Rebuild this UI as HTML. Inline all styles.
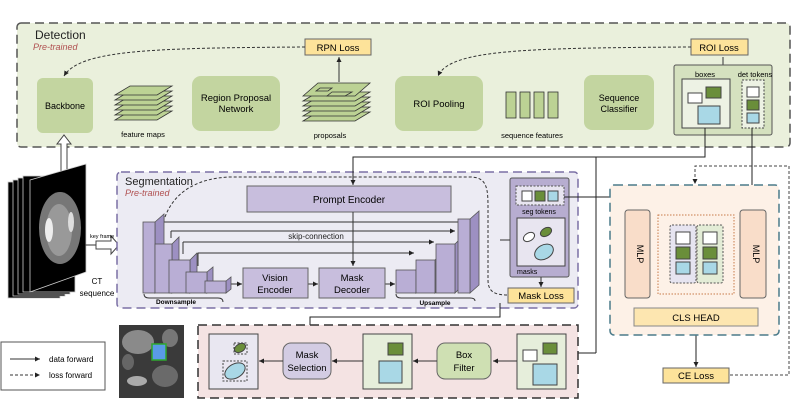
<!DOCTYPE html><html><head><meta charset="utf-8"><style>body{margin:0;background:#fff}svg{display:block;font-family:"Liberation Sans",sans-serif}</style></head><body>
<svg width="800" height="408" viewBox="0 0 800 408" xmlns="http://www.w3.org/2000/svg">
<defs>
<marker id="a" markerWidth="6" markerHeight="6" refX="5" refY="3" orient="auto"><path d="M0,0.5 L5,3 L0,5.5z" fill="#222"/></marker>
</defs>
<!-- Detection -->
<rect x="17" y="23" width="773" height="124" rx="4" fill="#eaf0dc" stroke="#555" stroke-width="1.5" stroke-dasharray="9,5"/>
<text x="35" y="39" font-size="12" fill="#222">Detection</text>
<text x="33" y="50" font-size="9" fill="#b05050" font-style="italic">Pre-trained</text>
<rect x="305" y="39" width="66" height="16" fill="#fde39a" stroke="#666"/><text x="338" y="51" font-size="9.5" text-anchor="middle">RPN Loss</text>
<rect x="691" y="39" width="57" height="16" fill="#fde39a" stroke="#666"/><text x="719" y="51" font-size="9.5" text-anchor="middle">ROI Loss</text>
<path d="M305,47 C150,48 80,50 64,76" fill="none" stroke="#333" stroke-dasharray="3,2" marker-end="url(#a)"/>
<path d="M691,47 C520,48 450,50 438,76" fill="none" stroke="#333" stroke-dasharray="3,2" marker-end="url(#a)"/>
<line x1="339" y1="82" x2="339" y2="57" stroke="#333" marker-end="url(#a)"/>
<line x1="723" y1="65" x2="723" y2="57" stroke="#333"/>
<rect x="37" y="78" width="56" height="55" rx="6" fill="#c3d5a0"/><text x="65" y="109" font-size="9" text-anchor="middle">Backbone</text>
<rect x="192" y="76" width="88" height="55" rx="9" fill="#c3d5a0"/><text x="236" y="101" font-size="9.5" text-anchor="middle">Region Proposal</text><text x="236" y="112" font-size="9.5" text-anchor="middle">Network</text>
<rect x="395" y="76" width="88" height="55" rx="9" fill="#c3d5a0"/><text x="439" y="107" font-size="9.5" text-anchor="middle">ROI Pooling</text>
<rect x="584" y="75" width="70" height="55" rx="8" fill="#c3d5a0"/><text x="619" y="101" font-size="9" text-anchor="middle">Sequence</text><text x="619" y="112" font-size="9" text-anchor="middle">Classifier</text>
<g fill="#bcd294" stroke="#333" stroke-width="0.8">
<path d="M115,120 L130,111 L172,111 L157,120z"/><path d="M115,115 L130,106 L172,106 L157,115z"/><path d="M115,110 L130,101 L172,101 L157,110z"/><path d="M115,105 L130,96 L172,96 L157,105z"/><path d="M115,100 L130,91 L172,91 L157,100z"/><path d="M115,95 L130,86 L172,86 L157,95z"/>
<path d="M303,121 L318,112 L370,112 L355,121z"/><path d="M303,116 L318,107 L370,107 L355,116z"/><path d="M303,111 L318,102 L370,102 L355,111z"/><path d="M303,106 L318,97 L370,97 L355,106z"/><path d="M303,101 L318,92 L370,92 L355,101z"/><path d="M303,96 L318,83 L370,83 L355,96z"/>
<rect x="506" y="92" width="10" height="26"/><rect x="520" y="92" width="10" height="26"/><rect x="534" y="92" width="10" height="26"/><rect x="548" y="92" width="10" height="26"/>
</g>
<path d="M320,88 L332,88 L328,91 L316,91z M332,92 L352,92 L345,96 L327,96z" fill="none" stroke="#333" stroke-width="0.8"/>
<text x="143" y="137" font-size="7.5" text-anchor="middle">feature maps</text>
<text x="330" y="138" font-size="7.5" text-anchor="middle">proposals</text>
<text x="532" y="138" font-size="7.5" text-anchor="middle">sequence features</text>
<rect x="674" y="65" width="98" height="70" rx="2" fill="#d5e1bf" stroke="#555"/>
<text x="705" y="77" font-size="7.5" text-anchor="middle">boxes</text><text x="755" y="77" font-size="7.5" text-anchor="middle">det tokens</text>
<rect x="682" y="79" width="48" height="49" fill="#edf2e4" stroke="#444"/>
<rect x="688" y="93" width="14" height="10" fill="#fff" stroke="#444"/><rect x="706" y="87" width="15" height="11" fill="#6a8e3a" stroke="#444"/><rect x="698" y="106" width="22" height="18" fill="#a9d8e6" stroke="#444"/>
<rect x="742" y="80" width="22" height="48" fill="#edf2e4" stroke="#444" stroke-dasharray="2,1.5"/>
<rect x="747" y="87" width="12" height="10" fill="#fff" stroke="#444"/><rect x="747" y="100" width="12" height="10" fill="#6a8e3a" stroke="#444"/><rect x="747" y="113" width="12" height="10" fill="#a9d8e6" stroke="#444"/>
<!-- hollow up arrow -->
<path d="M61,178 L61,144 L57,144 L64,135 L71,144 L67,144 L67,178z" fill="#fff" stroke="#444"/>
<!-- CT stack -->
<g stroke="#ccc" stroke-width="0.8">
<rect x="8" y="182" width="52" height="116" fill="#000"/><rect x="13" y="180" width="52" height="116" fill="#000"/><rect x="18" y="178" width="52" height="116" fill="#000"/><rect x="23" y="176" width="52" height="116" fill="#000"/>
<path d="M30,180 L86,164 L86,272 L30,292z" fill="#000"/>
</g>
<ellipse cx="60" cy="228" rx="21" ry="36" fill="#777"/><ellipse cx="59" cy="230" rx="13" ry="26" fill="#999"/><ellipse cx="49" cy="230" rx="4" ry="12" fill="#eee"/><ellipse cx="71" cy="222" rx="3" ry="10" fill="#ddd"/>
<text x="97" y="284" font-size="8" text-anchor="middle">CT</text><text x="97" y="296" font-size="8" text-anchor="middle">sequence</text>
<line x1="85" y1="245" x2="96" y2="245" stroke="#333"/>
<path d="M96,241 L111,241 L111,236 L119,245 L111,254 L111,249 L96,249z" fill="#fff" stroke="#444"/>
<text x="90" y="238" font-size="5.5">key frame</text>
<!-- Segmentation -->
<rect x="117" y="172" width="461" height="136" rx="4" fill="#ecebf3" stroke="#7b70a5" stroke-width="1.5" stroke-dasharray="9,5"/>
<text x="125" y="185" font-size="11" fill="#222">Segmentation</text>
<text x="125" y="196" font-size="9" fill="#b05050" font-style="italic">Pre-trained</text>
<path d="M165,217 C175,190 200,178 230,177 L470,177 C488,177 488,190 488,210 L488,280 C488,292 495,295 508,295" fill="none" stroke="#333" stroke-dasharray="3,2"/>
<rect x="247" y="186" width="204" height="26" fill="#c8bedd" stroke="#666"/><text x="349" y="203" font-size="10" text-anchor="middle">Prompt Encoder</text>
<g stroke="#333" fill="none">
<line x1="164" y1="222" x2="465" y2="222" marker-end="url(#a)"/>
<line x1="171" y1="231" x2="455" y2="231" marker-end="url(#a)"/>
<line x1="183" y1="242" x2="434" y2="242" marker-end="url(#a)"/>
<line x1="198" y1="253" x2="414" y2="253" marker-end="url(#a)"/>
<line x1="164" y1="222" x2="164" y2="217"/><line x1="171" y1="231" x2="171" y2="238"/><line x1="183" y1="242" x2="183" y2="254"/><line x1="198" y1="253" x2="198" y2="266"/>
<line x1="353" y1="212" x2="353" y2="266" marker-end="url(#a)"/>
<line x1="227" y1="284" x2="242" y2="284" marker-end="url(#a)"/>
<line x1="308" y1="284" x2="318" y2="284" marker-end="url(#a)"/>
<line x1="385" y1="284" x2="395" y2="284" marker-end="url(#a)"/>
<path d="M144,294 q0,4 5,4 L218,298 q5,0 5,4"/><path d="M396,294 q0,4 5,4 L470,298 q5,0 5,3"/>
</g>
<text x="316" y="239" font-size="8" text-anchor="middle" fill="#222">skip-connection</text>
<g fill="#b9aed5" stroke="#555" stroke-width="0.8">
<path d="M155,222 L164,214 L164,286 L155,293z" fill="#9d90c2"/><rect x="143" y="222" width="12" height="71"/>
<path d="M172,244 L179,237 L179,286 L172,293z" fill="#9d90c2"/><rect x="155" y="244" width="17" height="49"/>
<path d="M190,260 L197,253 L197,286 L190,293z" fill="#9d90c2"/><rect x="169" y="260" width="21" height="33"/>
<path d="M207,272 L213,267 L213,287 L207,293z" fill="#9d90c2"/><rect x="186" y="272" width="21" height="21"/>
<path d="M226,281 L231,277 L231,289 L226,293z" fill="#9d90c2"/><rect x="205" y="281" width="21" height="12"/>
<path d="M416,270 L422,265 L422,287 L416,293z" fill="#9d90c2"/><rect x="396" y="270" width="20" height="23"/>
<path d="M435,260 L441,254 L441,287 L435,293z" fill="#9d90c2"/><rect x="416" y="260" width="19" height="33"/>
<path d="M455,244 L462,237 L462,286 L455,293z" fill="#9d90c2"/><rect x="436" y="244" width="19" height="49"/>
<path d="M470,219 L479,211 L479,285 L470,293z" fill="#9d90c2"/><rect x="458" y="219" width="12" height="74"/>
</g>
<rect x="243" y="268" width="65" height="30" fill="#c8bedd" stroke="#666"/><text x="275" y="281" font-size="9.5" text-anchor="middle">Vision</text><text x="275" y="293" font-size="9.5" text-anchor="middle">Encoder</text>
<rect x="319" y="268" width="66" height="30" fill="#c8bedd" stroke="#666"/><text x="352" y="281" font-size="9.5" text-anchor="middle">Mask</text><text x="352" y="293" font-size="9.5" text-anchor="middle">Decoder</text>
<text x="176" y="304" font-size="6.5" font-weight="bold" text-anchor="middle">Downsample</text>
<text x="435" y="305" font-size="6.5" font-weight="bold" text-anchor="middle">Upsample</text>
<rect x="510" y="178" width="59" height="99" rx="2" fill="#b7add0" stroke="#555"/>
<rect x="516" y="186" width="48" height="19" fill="#e8e5f0" stroke="#555" stroke-dasharray="2,1.5"/>
<rect x="522" y="191" width="10" height="10" fill="#fff" stroke="#444"/><rect x="535" y="191" width="10" height="10" fill="#6a8e3a" stroke="#444"/><rect x="548" y="191" width="10" height="10" fill="#a9d8e6" stroke="#444"/>
<text x="539" y="214" font-size="7" text-anchor="middle">seg tokens</text>
<rect x="517" y="218" width="48" height="48" fill="#e8e5f0" stroke="#444"/>
<ellipse cx="529" cy="237" rx="6" ry="4" fill="#fff" stroke="#444" transform="rotate(-30 529 237)"/><ellipse cx="546" cy="232" rx="6" ry="4" fill="#6a8e3a" stroke="#444" transform="rotate(-30 546 232)"/><ellipse cx="544" cy="252" rx="10" ry="7" fill="#a9d8e6" stroke="#444" transform="rotate(-30 544 252)"/>
<text x="517" y="274" font-size="7">masks</text>
<line x1="541" y1="277" x2="541" y2="287" stroke="#333" marker-end="url(#a)"/>
<rect x="508" y="288" width="66" height="15" fill="#fde39a" stroke="#666"/><text x="541" y="299" font-size="9.5" text-anchor="middle">Mask Loss</text>
<line x1="500" y1="240" x2="510" y2="240" stroke="#333"/>
<!-- routing lines -->
<g stroke="#222" fill="none">
<polyline points="705,128 705,157 353,157 353,185" marker-end="url(#a)"/>
<line x1="596" y1="157" x2="596" y2="353"/>
<line x1="596" y1="353" x2="568" y2="353" marker-end="url(#a)"/>
<polyline points="752,128 752,209" marker-end="url(#a)"/>
<polyline points="564,197 636,197 636,209" marker-end="url(#a)"/>
<polyline points="500,303 500,317 310,317 310,336" marker-end="url(#a)"/>
<polyline points="696,326 696,367" marker-end="url(#a)"/>
</g>
<polyline points="730,375 789,375 789,166 695,166 695,184" fill="none" stroke="#444" stroke-dasharray="3,2" marker-end="url(#a)"/>
<!-- CLS -->
<rect x="610" y="185" width="169" height="150" rx="4" fill="#fdf1e7" stroke="#4b7b8a" stroke-width="1.5" stroke-dasharray="9,5"/>
<rect x="625" y="210" width="25" height="88" rx="3" fill="#f9ddc9" stroke="#666"/><text x="637" y="254" font-size="9" text-anchor="middle" transform="rotate(90 637 254)">MLP</text>
<rect x="740" y="210" width="26" height="88" rx="3" fill="#f9ddc9" stroke="#666"/><text x="753" y="254" font-size="9" text-anchor="middle" transform="rotate(90 753 254)">MLP</text>
<rect x="658" y="215" width="76" height="79" fill="none" stroke="#c87a4a" stroke-dasharray="1.5,1.5"/>
<rect x="670" y="225" width="26" height="58" rx="2" fill="#e6e4f0" stroke="#555" stroke-dasharray="2,1.5"/>
<rect x="697" y="225" width="26" height="58" rx="2" fill="#e3ecd6" stroke="#555" stroke-dasharray="2,1.5"/>
<rect x="676" y="232" width="14" height="12" fill="#fff" stroke="#444"/><rect x="676" y="247" width="14" height="12" fill="#6a8e3a" stroke="#444"/><rect x="676" y="262" width="14" height="12" fill="#a9d8e6" stroke="#444"/>
<rect x="703" y="232" width="14" height="12" fill="#fff" stroke="#444"/><rect x="703" y="247" width="14" height="12" fill="#6a8e3a" stroke="#444"/><rect x="703" y="262" width="14" height="12" fill="#a9d8e6" stroke="#444"/>
<rect x="634" y="308" width="124" height="18" fill="#fde6b0" stroke="#888"/><text x="696" y="321" font-size="9.5" text-anchor="middle">CLS HEAD</text>
<rect x="663" y="368" width="66" height="15" fill="#fde39a" stroke="#666"/><text x="696" y="379" font-size="9.5" text-anchor="middle">CE Loss</text>
<!-- bottom pipeline -->
<rect x="198" y="325" width="380" height="73" fill="#f4e3e3" stroke="#333" stroke-width="1.5" stroke-dasharray="9,5"/>
<rect x="209" y="334" width="49" height="55" fill="#e9e7f1" stroke="#444"/>
<rect x="234" y="343" width="13" height="11" fill="none" stroke="#444" stroke-dasharray="2,1.5"/><ellipse cx="240" cy="348" rx="6" ry="4" fill="#6a8e3a" stroke="#444" transform="rotate(-30 240 348)"/>
<rect x="223" y="361" width="24" height="20" fill="none" stroke="#444" stroke-dasharray="2,1.5"/><ellipse cx="235" cy="371" rx="11" ry="7" fill="#a9d8e6" stroke="#444" transform="rotate(-30 235 371)"/>
<rect x="283" y="343" width="48" height="36" rx="8" fill="#d3cce3" stroke="#666"/><text x="307" y="358" font-size="9.5" text-anchor="middle">Mask</text><text x="307" y="371" font-size="9.5" text-anchor="middle">Selection</text>
<rect x="363" y="334" width="49" height="55" fill="#e6eedb" stroke="#444"/>
<rect x="388" y="343" width="15" height="12" fill="#6a8e3a" stroke="#444"/><rect x="379" y="361" width="23" height="22" fill="#a9d8e6" stroke="#444"/>
<rect x="437" y="343" width="54" height="36" rx="8" fill="#cfe0b3" stroke="#666"/><text x="464" y="358" font-size="9.5" text-anchor="middle">Box</text><text x="464" y="371" font-size="9.5" text-anchor="middle">Filter</text>
<rect x="517" y="334" width="49" height="55" fill="#e6eedb" stroke="#444"/>
<rect x="523" y="350" width="14" height="11" fill="#fff" stroke="#444"/><rect x="543" y="343" width="14" height="11" fill="#6a8e3a" stroke="#444"/><rect x="533" y="364" width="24" height="21" fill="#a9d8e6" stroke="#444"/>
<g stroke="#333"><line x1="517" y1="361" x2="493" y2="361" marker-end="url(#a)"/><line x1="437" y1="361" x2="413" y2="361" marker-end="url(#a)"/><line x1="363" y1="361" x2="332" y2="361" marker-end="url(#a)"/><line x1="283" y1="361" x2="259" y2="361" marker-end="url(#a)"/></g>
<!-- CT crop -->
<rect x="119" y="325" width="65" height="73" fill="#3a3a3a"/>
<ellipse cx="138" cy="342" rx="16" ry="12" fill="#8a8a8a"/><ellipse cx="165" cy="376" rx="13" ry="11" fill="#6a6a6a"/><ellipse cx="137" cy="381" rx="10" ry="5" fill="#aaa"/><ellipse cx="170" cy="338" rx="8" ry="9" fill="#777"/><ellipse cx="128" cy="362" rx="6" ry="8" fill="#666"/>
<rect x="152" y="344" width="14" height="16" fill="#5a9be6" stroke="#2ea82e" stroke-width="1.5"/>
<!-- legend -->
<rect x="1" y="342" width="104" height="48" fill="#fff" stroke="#555"/>
<line x1="10" y1="359" x2="40" y2="359" stroke="#333" marker-end="url(#a)"/><text x="49" y="362" font-size="8">data forward</text>
<line x1="10" y1="375" x2="40" y2="375" stroke="#333" stroke-dasharray="3,2" marker-end="url(#a)"/><text x="49" y="378" font-size="8">loss forward</text>
</svg>
</body></html>
